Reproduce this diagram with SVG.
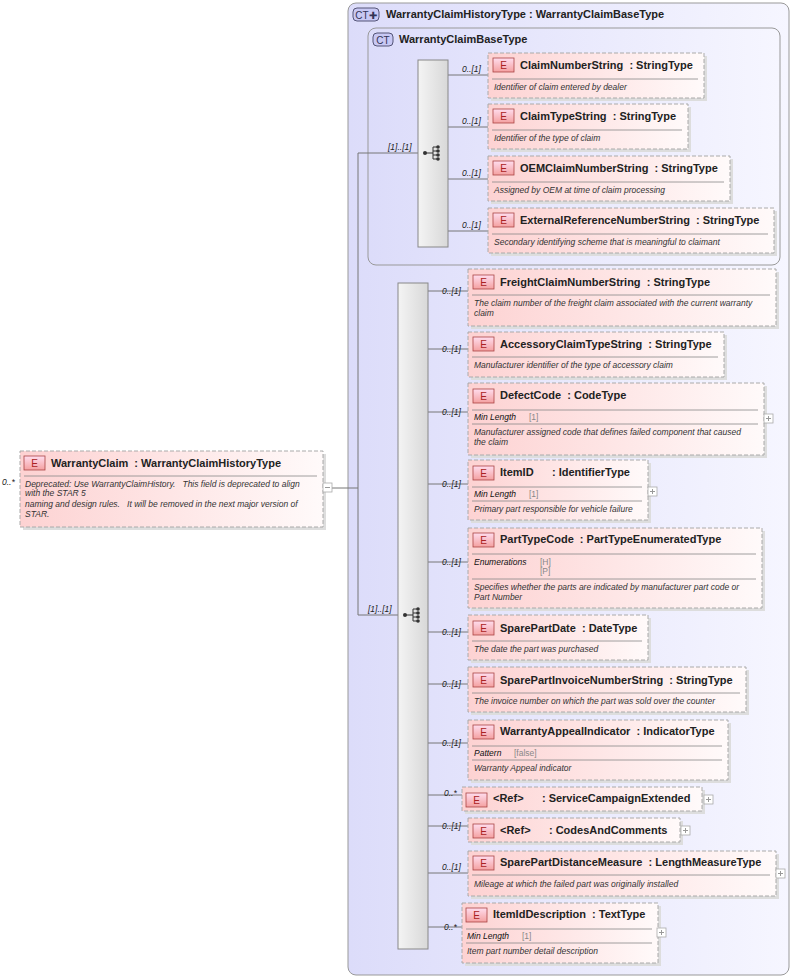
<svg xmlns="http://www.w3.org/2000/svg" width="793" height="978" viewBox="0 0 793 978">
<style>
text{font-family:"Liberation Sans",Arial,sans-serif;fill:#222;white-space:pre}
.t{font-size:11px;font-weight:bold}
.d{font-size:8.5px;font-style:italic;fill:#333}
.f{font-size:8.5px;font-style:italic;fill:#111}
.fv{font-size:8.5px;fill:#888}
.m{font-size:8.5px;font-style:italic;fill:#222}
.el{fill:url(#pk);stroke:#aaa;stroke-dasharray:4,2;stroke-width:1}
.sh{fill:#ddd}
.sep{stroke:#888;stroke-width:0.8}
.ln{stroke:#777;stroke-width:1;fill:none}
.bar{fill:url(#gb);stroke:#888}
.badge{fill:url(#bp);stroke:#a44;stroke-width:0.8}
.bt{font-size:10px;fill:#a22;text-anchor:middle}
.ex{fill:#fff;stroke:#aaa;stroke-width:0.8}
</style>
<defs>
<linearGradient id="pk" x1="0" x2="1" y1="0" y2="0"><stop offset="0" stop-color="#fdd2d2"/><stop offset="1" stop-color="#fffafa"/></linearGradient>
<linearGradient id="bp" x1="0" x2="0" y1="0" y2="1"><stop offset="0" stop-color="#fde"/><stop offset="1" stop-color="#f4a0a0"/></linearGradient>
<linearGradient id="gb" x1="0" x2="1"><stop offset="0" stop-color="#f4f4f4"/><stop offset="1" stop-color="#d8d8d8"/></linearGradient>
<linearGradient id="ct" x1="0" x2="1"><stop offset="0" stop-color="#dcdcfa"/><stop offset="1" stop-color="#f6f6ff"/></linearGradient>
<g id="seq"><line x1="-8" y1="0" x2="0" y2="0" stroke="#333"/><circle cx="-8" cy="0" r="2" fill="#333"/><path d="M0 -6V6M0 -6H4M0 -2H4M0 2H4M0 6H4" stroke="#333" fill="none"/><circle cx="5" cy="-6" r="1.8" fill="#333"/><circle cx="5" cy="-2" r="1.8" fill="#333"/><circle cx="5" cy="2" r="1.8" fill="#333"/><circle cx="5" cy="6" r="1.8" fill="#333"/></g>
<g id="plus"><rect x="0" y="0" width="9" height="9" class="ex"/><path d="M2 4.5H7M4.5 2V7" stroke="#999"/></g>
</defs>
<rect width="793" height="978" fill="#fff"/>

<g id="outerCT">
<rect x="348" y="3" width="441" height="972" rx="8" fill="url(#ct)" stroke="#999"/>
<rect x="353" y="8" width="26" height="13" rx="4" fill="#c8c8f4" stroke="#557"/>
<text x="366" y="18.5" style="font-size:10px;fill:#335;text-anchor:middle">CT✚</text>
<text x="386" y="18" class="t">WarrantyClaimHistoryType : WarrantyClaimBaseType</text>
</g>
<g id="innerCT">
<rect x="368" y="28" width="412" height="237" rx="8" fill="url(#ct)" stroke="#999"/>
<rect x="373" y="33" width="20" height="13" rx="4" fill="#c8c8f4" stroke="#557"/>
<text x="383" y="43.5" style="font-size:10px;fill:#335;text-anchor:middle">CT</text>
<text x="399" y="43" class="t">WarrantyClaimBaseType</text>
</g>

<g id="connectors">
<path class="ln" d="M332 488H358M358 153V615M358 153H418M358 615H398"/>
<path class="ln" d="M448 75H488M448 127H488M448 179H488M448 231H488"/>
<path class="ln" d="M428 291H468M428 349H468M428 412H468M428 484H468M428 562H468M428 632H468M428 684H468M428 743H468M428 795H462M428 826H468M428 873H468M428 927H462"/>
<text x="388" y="150" class="m">[1]..[1]</text>
<text x="368" y="612" class="m">[1]..[1]</text>
<text x="462" y="72" class="m">0..[1]</text><text x="462" y="124" class="m">0..[1]</text><text x="462" y="176" class="m">0..[1]</text><text x="462" y="228" class="m">0..[1]</text>
<text x="442" y="294" class="m">0..[1]</text><text x="442" y="352" class="m">0..[1]</text><text x="442" y="415" class="m">0..[1]</text><text x="442" y="487" class="m">0..[1]</text><text x="442" y="565" class="m">0..[1]</text><text x="442" y="635" class="m">0..[1]</text><text x="442" y="687" class="m">0..[1]</text><text x="442" y="746" class="m">0..[1]</text><text x="444" y="796" class="m">0..*</text><text x="442" y="829" class="m">0..[1]</text><text x="442" y="870" class="m">0..[1]</text><text x="444" y="930" class="m">0..*</text>
<text x="2" y="485" class="m">0..*</text>
</g>

<g id="seq1"><rect x="418" y="60" width="30" height="187" class="bar"/><use href="#seq" x="433" y="153"/></g>
<g id="seq2"><rect x="398" y="283" width="30" height="666" class="bar"/><use href="#seq" x="413" y="615"/></g>

<g id="WarrantyClaim">
<rect x="23" y="454" width="303" height="76" class="sh"/>
<rect x="20" y="451" width="303" height="76" class="el"/>
<rect x="24" y="456" width="21" height="14" class="badge"/><text x="34.5" y="467" class="bt">E</text>
<text x="51" y="467" class="t">WarrantyClaim  : WarrantyClaimHistoryType</text>
<line x1="24" y1="476" x2="317" y2="476" class="sep"/>
<text x="25" y="487" class="d">Deprecated: Use WarrantyClaimHistory.   This field is deprecated to align</text>
<text x="25" y="496" class="d">with the STAR 5</text>
<text x="25" y="507" class="d">naming and design rules.   It will be removed in the next major version of</text>
<text x="25" y="517" class="d">STAR.</text>
<rect x="323" y="483" width="9" height="9" class="ex"/><path d="M325 487.5H330" stroke="#999"/>
</g>

<g id="ClaimNumberString"><rect x="491" y="56" width="216" height="45" class="sh"/><rect x="488" y="53" width="216" height="45" class="el"/><rect x="493" y="58" width="21" height="14" class="badge"/><text x="503.5" y="69" class="bt">E</text><text x="520" y="69" class="t">ClaimNumberString  : StringType</text><line x1="492" y1="79" x2="698" y2="79" class="sep"/><text x="494" y="90" class="d">Identifier of claim entered by dealer</text></g>
<g id="ClaimTypeString"><rect x="491" y="107" width="200" height="45" class="sh"/><rect x="488" y="104" width="200" height="45" class="el"/><rect x="493" y="109" width="21" height="14" class="badge"/><text x="503.5" y="120" class="bt">E</text><text x="520" y="120" class="t">ClaimTypeString  : StringType</text><line x1="492" y1="130" x2="682" y2="130" class="sep"/><text x="494" y="141" class="d">Identifier of the type of claim</text></g>
<g id="OEMClaimNumberString"><rect x="491" y="159" width="242" height="45" class="sh"/><rect x="488" y="156" width="242" height="45" class="el"/><rect x="493" y="161" width="21" height="14" class="badge"/><text x="503.5" y="172" class="bt">E</text><text x="520" y="172" class="t">OEMClaimNumberString  : StringType</text><line x1="492" y1="182" x2="724" y2="182" class="sep"/><text x="494" y="193" class="d">Assigned by OEM at time of claim processing</text></g>
<g id="ExternalReferenceNumberString"><rect x="491" y="211" width="286" height="45" class="sh"/><rect x="488" y="208" width="286" height="45" class="el"/><rect x="493" y="213" width="21" height="14" class="badge"/><text x="503.5" y="224" class="bt">E</text><text x="520" y="224" class="t">ExternalReferenceNumberString  : StringType</text><line x1="492" y1="234" x2="768" y2="234" class="sep"/><text x="494" y="245" class="d">Secondary identifying scheme that is meaningful to claimant</text></g>

<g id="FreightClaimNumberString"><rect x="471" y="272" width="308" height="57" class="sh"/><rect x="468" y="269" width="308" height="57" class="el"/><rect x="473" y="275" width="21" height="14" class="badge"/><text x="483.5" y="286" class="bt">E</text><text x="500" y="286" class="t">FreightClaimNumberString  : StringType</text><line x1="472" y1="295" x2="770" y2="295" class="sep"/><text x="474" y="306" class="d">The claim number of the freight claim associated with the current warranty</text><text x="474" y="316" class="d">claim</text></g>
<g id="AccessoryClaimTypeString"><rect x="471" y="335" width="256" height="45" class="sh"/><rect x="468" y="332" width="256" height="45" class="el"/><rect x="473" y="337" width="21" height="14" class="badge"/><text x="483.5" y="348" class="bt">E</text><text x="500" y="348" class="t">AccessoryClaimTypeString  : StringType</text><line x1="472" y1="357" x2="718" y2="357" class="sep"/><text x="474" y="368" class="d">Manufacturer identifier of the type of accessory claim</text></g>
<g id="DefectCode"><rect x="471" y="386" width="296" height="72" class="sh"/><rect x="468" y="383" width="296" height="72" class="el"/><rect x="473" y="389" width="21" height="14" class="badge"/><text x="483.5" y="400" class="bt">E</text><text x="500" y="399" class="t">DefectCode  : CodeType</text><line x1="472" y1="410" x2="758" y2="410" class="sep"/><text x="474" y="420" class="f">Min Length</text><text x="529" y="420" class="fv">[1]</text><line x1="472" y1="424" x2="758" y2="424" class="sep"/><text x="474" y="435" class="d">Manufacturer assigned code that defines failed component that caused</text><text x="474" y="445" class="d">the claim</text><use href="#plus" x="764" y="414"/></g>
<g id="ItemID"><rect x="471" y="463" width="180" height="60" class="sh"/><rect x="468" y="460" width="180" height="60" class="el"/><rect x="473" y="466" width="21" height="14" class="badge"/><text x="483.5" y="477" class="bt">E</text><text x="500" y="476" class="t">ItemID      : IdentifierType</text><line x1="472" y1="487" x2="642" y2="487" class="sep"/><text x="474" y="497" class="f">Min Length</text><text x="529" y="497" class="fv">[1]</text><line x1="472" y1="501" x2="642" y2="501" class="sep"/><text x="474" y="512" class="d">Primary part responsible for vehicle failure</text><use href="#plus" x="648" y="487"/></g>
<g id="PartTypeCode"><rect x="471" y="531" width="294" height="80" class="sh"/><rect x="468" y="528" width="294" height="80" class="el"/><rect x="473" y="533" width="21" height="14" class="badge"/><text x="483.5" y="544" class="bt">E</text><text x="500" y="543" class="t">PartTypeCode  : PartTypeEnumeratedType</text><line x1="472" y1="554" x2="756" y2="554" class="sep"/><text x="474" y="565" class="f">Enumerations</text><text x="540" y="565" class="fv">[H]</text><text x="540" y="574" class="fv">[P]</text><line x1="472" y1="579" x2="756" y2="579" class="sep"/><text x="474" y="590" class="d">Specifies whether the parts are indicated by manufacturer part code or</text><text x="474" y="600" class="d">Part Number</text></g>
<g id="SparePartDate"><rect x="471" y="618" width="180" height="45" class="sh"/><rect x="468" y="615" width="180" height="45" class="el"/><rect x="473" y="621" width="21" height="14" class="badge"/><text x="483.5" y="632" class="bt">E</text><text x="500" y="632" class="t">SparePartDate  : DateType</text><line x1="472" y1="641" x2="642" y2="641" class="sep"/><text x="474" y="652" class="d">The date the part was purchased</text></g>
<g id="SparePartInvoiceNumberString"><rect x="471" y="670" width="278" height="45" class="sh"/><rect x="468" y="667" width="278" height="45" class="el"/><rect x="473" y="673" width="21" height="14" class="badge"/><text x="483.5" y="684" class="bt">E</text><text x="500" y="684" class="t">SparePartInvoiceNumberString  : StringType</text><line x1="472" y1="693" x2="740" y2="693" class="sep"/><text x="474" y="704" class="d">The invoice number on which the part was sold over the counter</text></g>
<g id="WarrantyAppealIndicator"><rect x="471" y="723" width="260" height="60" class="sh"/><rect x="468" y="720" width="260" height="60" class="el"/><rect x="473" y="725" width="21" height="14" class="badge"/><text x="483.5" y="736" class="bt">E</text><text x="500" y="735" class="t">WarrantyAppealIndicator  : IndicatorType</text><line x1="472" y1="746" x2="722" y2="746" class="sep"/><text x="474" y="756" class="f">Pattern</text><text x="514" y="756" class="fv">[false]</text><line x1="472" y1="760" x2="722" y2="760" class="sep"/><text x="474" y="771" class="d">Warranty Appeal indicator</text></g>
<g id="ServiceCampaignExtended"><rect x="465" y="790" width="240" height="24" class="sh"/><rect x="462" y="787" width="240" height="24" class="el"/><rect x="466" y="793" width="21" height="14" class="badge"/><text x="476.5" y="804" class="bt">E</text><text x="493" y="802" class="t">&lt;Ref&gt;      : ServiceCampaignExtended</text><use href="#plus" x="704" y="795"/></g>
<g id="CodesAndComments"><rect x="471" y="821" width="212" height="24" class="sh"/><rect x="468" y="818" width="212" height="24" class="el"/><rect x="473" y="824" width="21" height="14" class="badge"/><text x="483.5" y="835" class="bt">E</text><text x="500" y="834" class="t">&lt;Ref&gt;      : CodesAndComments</text><use href="#plus" x="681" y="826"/></g>
<g id="SparePartDistanceMeasure"><rect x="471" y="854" width="308" height="45" class="sh"/><rect x="468" y="851" width="308" height="45" class="el"/><rect x="473" y="856" width="21" height="14" class="badge"/><text x="483.5" y="867" class="bt">E</text><text x="500" y="866" class="t">SparePartDistanceMeasure  : LengthMeasureType</text><line x1="472" y1="875" x2="770" y2="875" class="sep"/><text x="474" y="887" class="d">Mileage at which the failed part was originally installed</text><use href="#plus" x="776" y="869"/></g>
<g id="ItemIdDescription"><rect x="465" y="906" width="196" height="60" class="sh"/><rect x="462" y="903" width="196" height="60" class="el"/><rect x="466" y="908" width="21" height="14" class="badge"/><text x="476.5" y="919" class="bt">E</text><text x="493" y="918" class="t">ItemIdDescription  : TextType</text><line x1="466" y1="929" x2="652" y2="929" class="sep"/><text x="467" y="939" class="f">Min Length</text><text x="522" y="939" class="fv">[1]</text><line x1="466" y1="943" x2="652" y2="943" class="sep"/><text x="467" y="954" class="d">Item part number detail description</text><use href="#plus" x="657" y="928"/></g>
</svg>
